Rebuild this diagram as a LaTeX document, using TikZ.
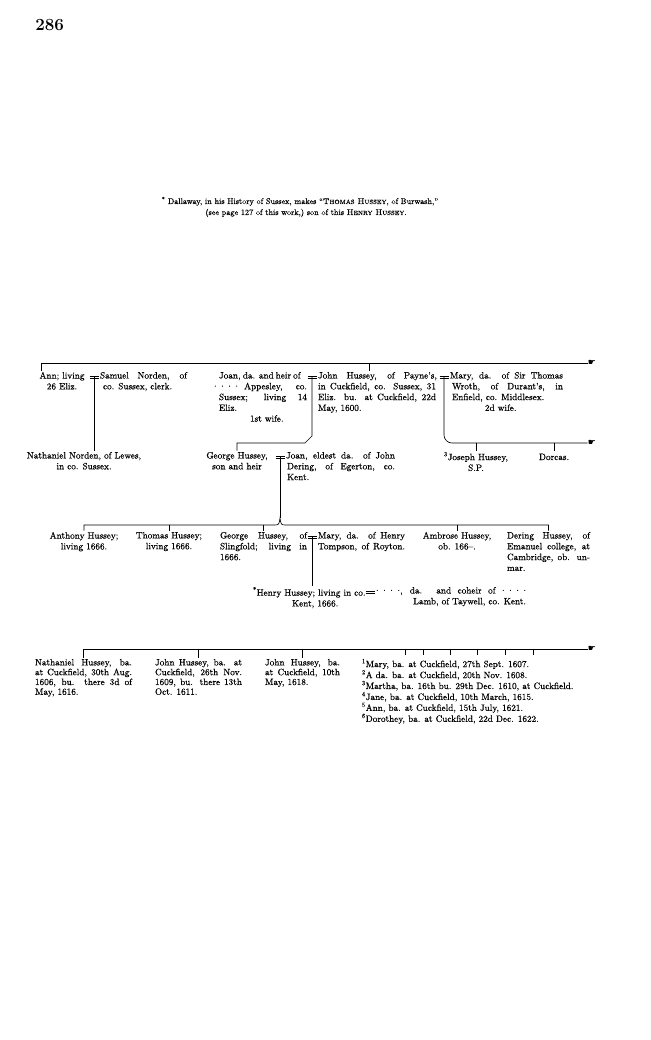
\documentclass[tikz,border=0pt]{standalone}
\usepackage{fontspec}
\usepackage{tikz}
\usetikzlibrary{positioning,calc}
\newfontfamily\handfont{DejaVu Sans}
\newfontfamily\genfont{lmroman10-regular.otf}[Ligatures = TeX, FakeBold = 0.5,
  SmallCapsFont = lmromancaps10-regular.otf, SmallCapsFeatures = {FakeBold = 0.5}]
\newcommand\gentext{\genfont\fontsize{9.2}{10.8}\selectfont}
\newcommand\tighttext{\genfont\fontsize{9.2}{9.8}\selectfont}
\newcommand\unkdots[1][14]{\makebox[#1pt]{·\hfill·\hfill·\hfill·}}
\newcommand\jl[2]{\makebox[#1pt][s]{#2}}
\tikzset{person/.style = {inner sep = 0pt, outer sep = 1.5pt, font = \gentext, align = left,
                          anchor = north west, execute at begin node = \rule{0pt}{8pt}},
         cperson/.style = {person, align = center, anchor = north},
         tight/.style = {font = \tighttext},
         marry/.style = {line width = 0.6pt},
         hand/.style = {inner sep = 0pt, font = \handfont\fontsize{9}{9}\selectfont},
}

\begin{document}
\begin{tikzpicture}[x = 1pt, y = -1pt, line width = 0.65pt]
  \useasboundingbox (0,0) rectangle (650,1040);

  \node[anchor = base west, inner sep = 0pt, font = \fontsize{17}{17}\selectfont\bfseries] (page) at (35,31) {286};
  \node[anchor = base, align = center, font = \genfont\fontsize{8.2}{11}\selectfont] (note) at (300,215)
    {\textsuperscript{*} Dallaway, in his History of Sussex, makes ``\textsc{Thomas Hussey}, of Burwash,''\\
     \hspace*{12pt}(see page 127 of this work,) son of this \textsc{Henry Hussey}.};

  % first generation
  \node[cperson] (ann) at (62,370.5) {Ann; living\\26 Eliz.};
  \node[person] (samuel) at (98.5,370.5) {\jl{87}{Samuel Norden, of}\\\hspace*{3pt}co. Sussex, clerk.};
  \node[person] (joan) at (217.5,370.5)
    {\jl{80}{Joan, da. and heir of}\\\jl{88}{\unkdots\ Appesley, co.}\\\jl{88}{Sussex; living 14}\\Eliz.\\\hspace*{31pt}1st wife.};
  \node[person] (john) at (316.5,370.5)
    {\jl{119}{John Hussey, of Payne's,}\\\jl{118}{in Cuckfield, co. Sussex, 31}\\\jl{118}{Eliz. bu. at Cuckfield, 22d}\\May, 1600.};
  \node[person] (mary) at (448.5,370.5)
    {\jl{113}{Mary, da. of Sir Thomas}\\\hspace*{2pt}\jl{111}{Wroth, of Durant's, in}\\\hspace*{2pt}Enfield, co. Middlesex.\\\hspace*{35pt}2d wife.};
  \node[hand] (cont1) at (592,363) {☛};

  % second generation
  \node[cperson] (nathN) at (84,450.5) {Nathaniel Norden, of Lewes,\\in co. Sussex.};
  \node[cperson] (georgeA) at (237,450.5) {George Hussey,\\son and heir};
  \node[person] (joanD) at (284.5,450.5)
    {\jl{109}{Joan, eldest da. of John}\\\hspace*{1pt}\jl{108}{Dering, of Egerton, co.}\\\hspace*{1pt}Kent.};
  \node[cperson] (joseph) at (476,450.5) {\textsuperscript{3}Joseph Hussey,\\S.P.};
  \node[cperson] (dorcas) at (554,450.5) {Dorcas.};
  \node[hand] (cont2) at (592,443) {☛};

  % third generation
  \node[cperson] (anthony) at (84,530.5) {Anthony Hussey;\\living 1666.};
  \node[cperson] (thomas) at (169,530.5) {Thomas Hussey;\\living 1666.};
  \node[person] (georgeS) at (218.5,530.5) {\jl{87}{George Hussey, of}\\\jl{87}{Slingfold; living in}\\1666.};
  \node[person] (maryT) at (316.5,530.5) {\jl{87}{Mary, da. of Henry}\\\jl{87}{Tompson, of Royton.}};
  \node[cperson] (ambrose) at (457,530.5) {Ambrose Hussey,\\ob. 166--.};
  \node[person] (dering) at (505.5,530.5)
    {\jl{83}{Dering Hussey, of}\\\jl{83}{Emanuel college, at}\\\jl{83}{Cambridge, ob. un-}\\mar.};

  \node[person] (henry) at (251.5,585.5) {\textsuperscript{*}Henry Hussey; living in co.\\\hspace*{39pt}Kent, 1666.};
  \node[person, align = right] (lamb) at (374.5,585.5)
    {\jl{150}{\unkdots[24], da. and coheir of \unkdots[24]}\\Lamb, of Taywell, co. Kent.};

  % fourth generation
  \node[person, tight] (nathH) at (33.5,657.5)
    {\jl{97}{Nathaniel Hussey, ba.}\\\jl{97}{at Cuckfield, 30th Aug.}\\\jl{97}{1606, bu. there 3d of}\\May, 1616.};
  \node[person, tight] (johnA) at (153.5,657.5)
    {\jl{87}{John Hussey, ba. at}\\\jl{87}{Cuckfield, 26th Nov.}\\\jl{87}{1609, bu. there 13th}\\Oct. 1611.};
  \node[person, tight] (johnB) at (263.5,657.5)
    {\jl{75}{John Hussey, ba.}\\\jl{75}{at Cuckfield, 10th}\\May, 1618.};
  \node[person, tight] (daus) at (360.5,657.5)
    {\textsuperscript{1}Mary, ba. at Cuckfield, 27th Sept. 1607.\\
     \textsuperscript{2}A da. ba. at Cuckfield, 20th Nov. 1608.\\
     \textsuperscript{3}Martha, ba. 16th bu. 29th Dec. 1610, at Cuckfield.\\
     \textsuperscript{4}Jane, ba. at Cuckfield, 10th March, 1615.\\
     \textsuperscript{5}Ann, ba. at Cuckfield, 15th July, 1621.\\
     \textsuperscript{6}Dorothey, ba. at Cuckfield, 22d Dec. 1622.};
  \node[hand] (cont3) at (592,649) {☛};

  % marriages
  \foreach \w/\m in {samuel/m1, john/m2, mary/m3, joanD/m4, maryT/m5, lamb/m6}
    \coordinate (\m) at ([xshift = -4.5pt, yshift = -6.5pt]\w.north west);
  \foreach \m in {m1, m2, m3, m4, m5, m6}
    \draw[marry] ([xshift = -4.5pt, yshift = 1.1pt]\m) -- ([xshift = 4.5pt, yshift = 1.1pt]\m)
                 ([xshift = -4.5pt, yshift = -1.1pt]\m) -- ([xshift = 4.5pt, yshift = -1.1pt]\m);

  \coordinate (bar1) at (41,363);
  \coordinate (bar2) at (0,443);
  \coordinate (bar3) at (0,525);
  \coordinate (bar4) at (0,649);

  % lines of descent
  \draw (bar1 |- ann.north) -- (bar1) -- (cont1.west);
  \draw ([xshift = -8pt]john.north |- bar1) -- ([xshift = -8pt]john.north);

  \draw (m1) -- (m1 |- nathN.north);
  \draw (m2) -- ([yshift = 7pt]m2 |- bar2) -- ([xshift = -7pt]m2 |- bar2)
        -- (georgeA.north |- bar2) -- (georgeA.north);
  \draw[rounded corners = 8pt] (m3) -- (m3 |- bar2) -- (cont2.west);
  \foreach \n in {joseph, dorcas}
    \draw (\n.north |- bar2) -- (\n.north);

  \draw (m4) -- ([yshift = 7pt]m4 |- bar3);
  \draw (anthony.north) -- (anthony.north |- bar3) -- ([xshift = -7pt]m4 |- bar3)
        .. controls ([xshift = -1pt]m4 |- bar3) .. ([yshift = 7pt]m4 |- bar3)
        .. controls ([xshift = 1pt]m4 |- bar3) .. ([xshift = 7pt]m4 |- bar3)
        -- (dering.north |- bar3) -- (dering.north);
  \foreach \n in {thomas, georgeS, ambrose}
    \draw (\n.north |- bar3) -- (\n.north);

  \draw (m5) -- (m5 |- henry.north);

  \draw (nathH.north) -- (nathH.north |- bar4) -- (cont3.west);
  \foreach \n in {johnA, johnB}
    \draw (\n.north |- bar4) -- (\n.north);
  \foreach \x in {405,423,450,477,505,533}
    \draw (\x,649) -- (\x,655);
\end{tikzpicture}
\end{document}
